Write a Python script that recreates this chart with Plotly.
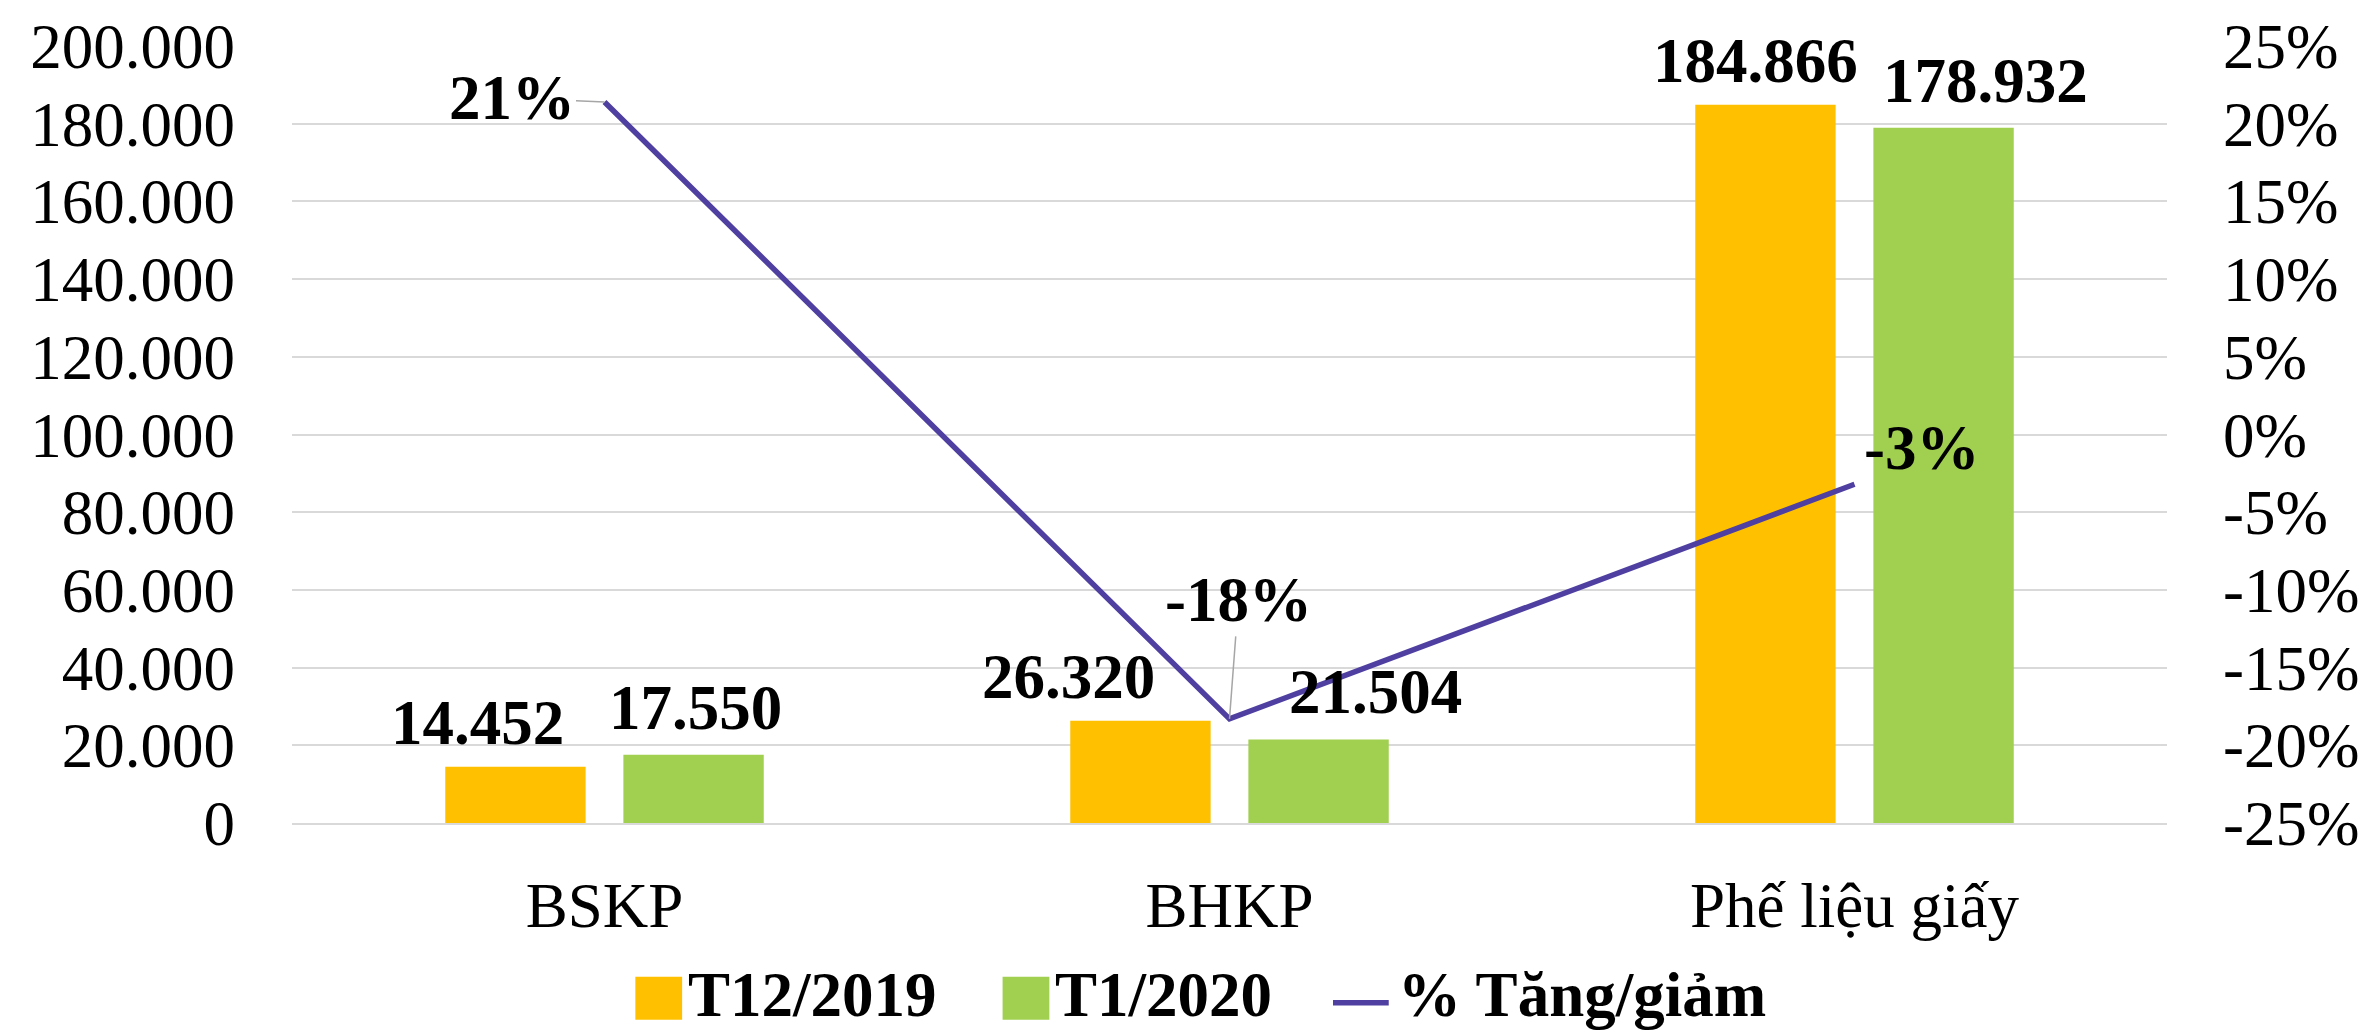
import plotly.graph_objects as go

# ---------------- data ----------------
categories = ["BSKP", "BHKP", "Phế liệu giấy"]
series_names = ["T12/2019", "T1/2020", "% Tăng/giảm"]
t12_2019 = [14452, 26320, 184866]
t1_2020 = [17550, 21504, 178932]
pct_change = [0.214, -0.183, -0.032]

left_tick_vals = [0, 20000, 40000, 60000, 80000, 100000, 120000, 140000, 160000, 180000, 200000]
left_tick_text = ["0", "20.000", "40.000", "60.000", "80.000", "100.000", "120.000",
                  "140.000", "160.000", "180.000", "200.000"]
right_tick_vals = [-0.25, -0.20, -0.15, -0.10, -0.05, 0.0, 0.05, 0.10, 0.15, 0.20, 0.25]
right_tick_text = ["-25%", "-20%", "-15%", "-10%", "-5%", "0%", "5%", "10%", "15%", "20%", "25%"]

# ---------------- style ----------------
W, H = 2371, 1033
ML, MR, MT, MB = 292, 195, 45, 210
PW, PH = W - ML - MR, H - MT - MB
FONT = "Liberation Serif"
FS = 63
C_ORANGE = "#FFC000"
C_GREEN = "#A1CF4F"
C_LINE = "#4F3FA0"
C_GRID = "#D9D9D9"
BARGAP = 0.43
BARGROUPGAP = 0.212
slot = (1 - BARGAP) / 2
bar_offsets = [-slot / 2, slot / 2]

# label nudges (pixels), as placed in the original chart
bar_label_dx = [[-38, -72, -10], [2, 57, 42]]
bar_label_dy = [7, 10]


def fmt_num(v):
    return f"{v:,}".replace(",", ".")


def fmt_pct(v):
    return f"{round(v * 100):d}%"


def px_x(px):
    return (px - ML) / PW


def px_y(py):
    return (H - MB - py) / PH


fig = go.Figure()
fig.add_trace(go.Bar(name=series_names[0], x=categories, y=t12_2019,
                     marker=dict(color=C_ORANGE, line=dict(width=0)), showlegend=False))
fig.add_trace(go.Bar(name=series_names[1], x=categories, y=t1_2020,
                     marker=dict(color=C_GREEN, line=dict(width=0)), showlegend=False))
fig.add_trace(go.Scatter(name=series_names[2], x=categories, y=pct_change, yaxis="y2",
                         mode="lines", line=dict(color=C_LINE, width=5.5), showlegend=False))

annotations = []
bold = dict(family=FONT, size=FS, color="black", weight="bold")
for k, vals in enumerate([t12_2019, t1_2020]):
    for i, v in enumerate(vals):
        annotations.append(dict(
            x=i + bar_offsets[k], y=v, xref="x", yref="y",
            text=f"<b>{fmt_num(v)}</b>", showarrow=False,
            xanchor="center", yanchor="bottom",
            xshift=bar_label_dx[k][i], yshift=bar_label_dy[k],
            font=bold))

# percent labels
pct_label_style = [
    dict(showarrow=True, ax=-93, ay=-4),
    dict(showarrow=True, ax=9, ay=-119),
    dict(showarrow=False, xshift=67, yshift=36),
]
for i, v in enumerate(pct_change):
    a = dict(x=i, y=v, xref="x", yref="y2", text=f"<b>{fmt_pct(v)}</b>",
             xanchor="center", yanchor="middle", font=bold,
             arrowhead=0, arrowwidth=1.5, arrowcolor="#A6A6A6", standoff=0)
    a.update(pct_label_style[i])
    annotations.append(a)

# legend (drawn manually so swatches match the original size)
shapes = []
legend_items = [
    dict(kind="box", color=C_ORANGE, x0=637, x1=684, tx=688),
    dict(kind="box", color=C_GREEN, x0=1006, x1=1053, tx=1057),
    dict(kind="line", color=C_LINE, x0=1338, x1=1394, tx=1401),
]
LEG_Y0, LEG_Y1, LEG_YC = 977, 1020, 999
for name, it in zip(series_names, legend_items):
    if it["kind"] == "box":
        shapes.append(dict(type="rect", xref="paper", yref="paper",
                           x0=px_x(it["x0"]), x1=px_x(it["x1"]),
                           y0=px_y(LEG_Y1), y1=px_y(LEG_Y0),
                           fillcolor=it["color"], line=dict(width=0)))
    else:
        shapes.append(dict(type="line", xref="paper", yref="paper",
                           x0=px_x(it["x0"]), x1=px_x(it["x1"]),
                           y0=px_y(LEG_YC + 4), y1=px_y(LEG_YC + 4),
                           line=dict(color=it["color"], width=5.5)))
    annotations.append(dict(x=px_x(it["tx"]), y=px_y(LEG_YC - 4), xref="paper", yref="paper",
                            text=f"<b>{name}</b>", showarrow=False,
                            xanchor="left", yanchor="middle", font=bold))

fig.update_layout(
    width=W, height=H,
    margin=dict(l=ML, r=MR, t=MT, b=MB, pad=0),
    paper_bgcolor="white", plot_bgcolor="white",
    barmode="group", bargap=BARGAP, bargroupgap=BARGROUPGAP,
    font=dict(family=FONT, size=FS, color="black"),
    showlegend=False,
    xaxis=dict(type="category", showgrid=False, zeroline=False,
               showline=True, linecolor=C_GRID, linewidth=2,
               ticks="", ticklabelstandoff=26,
               tickfont=dict(family=FONT, size=FS, color="black")),
    yaxis=dict(range=[0, 200000], tickvals=left_tick_vals, ticktext=left_tick_text,
               showgrid=True, gridcolor=C_GRID, gridwidth=2, zeroline=False,
               showline=False, ticks="", ticklabelstandoff=56,
               tickfont=dict(family=FONT, size=FS, color="black")),
    yaxis2=dict(range=[-0.25, 0.25], tickvals=right_tick_vals, ticktext=right_tick_text,
                overlaying="y", side="right", showgrid=False, zeroline=False,
                showline=False, ticks="", ticklabelstandoff=55,
                tickfont=dict(family=FONT, size=FS, color="black")),
    annotations=annotations,
    shapes=shapes,
)

fig.write_html(
    "out.html",
    config={"displayModeBar": False},
    post_script="document.body.style.margin='0px';document.body.style.overflow='hidden';",
)
